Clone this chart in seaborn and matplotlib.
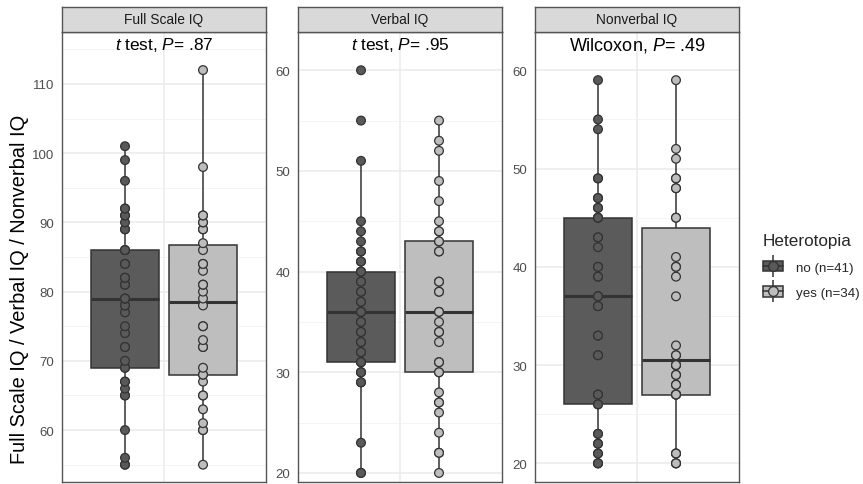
import numpy as np
import pandas as pd
import matplotlib
matplotlib.use('Agg')
import matplotlib.pyplot as plt
import seaborn as sns
from matplotlib.patches import Patch
from matplotlib.lines import Line2D
from matplotlib.legend_handler import HandlerTuple

# Scores per measure and heterotopia group (overlapping dots share a value)
fsiq_no = [55, 55, 56, 60, 65, 65, 66, 67, 67, 69, 69, 70, 72, 72, 74, 75, 77, 78, 78, 79, 79,
           79, 81, 81, 82, 82, 84, 84, 86, 86, 86, 89, 89, 90, 91, 91, 92, 92, 96, 99, 101]
fsiq_yes = [55, 60, 60, 61, 63, 65, 65, 67, 68, 68, 69, 72, 72, 73, 75, 75, 78, 79, 80, 81, 81,
            83, 84, 84, 86, 87, 89, 89, 90, 90, 91, 91, 98, 112]
viq_no = [20, 20, 23, 29, 29, 30, 30, 30, 31, 31, 31, 32, 32, 33, 33, 34, 34, 35, 35, 36, 36,
          36, 37, 37, 38, 38, 39, 39, 40, 40, 40, 41, 41, 42, 42, 43, 44, 45, 51, 55, 60]
viq_yes = [20, 22, 22, 24, 26, 27, 27, 28, 30, 30, 31, 31, 33, 34, 34, 35, 36, 36, 38, 38, 39,
           39, 42, 42, 43, 43, 44, 44, 45, 47, 49, 52, 53, 55]
nviq_no = [20, 20, 20, 21, 21, 22, 22, 23, 23, 26, 26, 27, 27, 31, 31, 33, 33, 36, 36, 37, 37,
           37, 39, 39, 40, 40, 42, 43, 43, 45, 45, 45, 46, 46, 47, 47, 49, 49, 54, 55, 59]
nviq_yes = [20, 20, 20, 21, 21, 21, 27, 27, 27, 27, 28, 28, 29, 29, 30, 30, 30, 31, 31, 32, 37,
            39, 40, 40, 41, 45, 45, 48, 48, 49, 49, 51, 52, 59]

measures = ["Full Scale IQ", "Verbal IQ", "Nonverbal IQ"]
groups = ["no (n=41)", "yes (n=34)"]
tests = [r"$\mathit{t}$ test, $\mathit{P}$= .87",
         r"$\mathit{t}$ test, $\mathit{P}$= .95",
         r"Wilcoxon, $\mathit{P}$= .49"]

scores = {
    "Full Scale IQ": (fsiq_no, fsiq_yes),
    "Verbal IQ": (viq_no, viq_yes),
    "Nonverbal IQ": (nviq_no, nviq_yes),
}

rows = []
for m in measures:
    for g, vals in zip(groups, scores[m]):
        for v in vals:
            rows.append((m, g, v))
df = pd.DataFrame(rows, columns=["measure", "group", "score"])

sns.set_style("white")
plt.rcParams['font.family'] = ['Liberation Sans', 'DejaVu Sans']
plt.rcParams['mathtext.fontset'] = 'custom'
plt.rcParams['mathtext.rm'] = 'Liberation Sans'
plt.rcParams['mathtext.it'] = 'Liberation Sans:italic'

box_colors = {"no (n=41)": "#5B5B5B", "yes (n=34)": "#BEBEBE"}
dot_colors = {"no (n=41)": "#595959", "yes (n=34)": "#BDBDBD"}
dark = "#333333"

W, H = 863, 485
fig = plt.figure(figsize=(W / 100, H / 100), dpi=100)

lefts = [62, 298, 535]
pw = 204
ptop, pbot, stop = 33, 483, 8
ylims = [(52.5, 117.5), (19.1, 63.8), (18.1, 63.9)]
majors = [np.arange(60, 111, 10), np.arange(20, 61, 10), np.arange(20, 61, 10)]
test_sizes = [12.4, 12.4, 13.0]

for i, m in enumerate(measures):
    ax = fig.add_axes([lefts[i] / W, (H - pbot) / H, pw / W, (pbot - ptop) / H])
    d = df[df["measure"] == m]
    sns.boxplot(data=d, x="measure", y="score", hue="group", hue_order=groups,
                palette=box_colors, saturation=1, dodge=True, gap=0.14,
                showfliers=False, showcaps=False, linecolor=dark, linewidth=1.1,
                medianprops=dict(linewidth=2.2, color=dark), legend=False, ax=ax)
    sns.stripplot(data=d, x="measure", y="score", hue="group", hue_order=groups,
                  palette=dot_colors, dodge=True, jitter=False, size=6.3,
                  edgecolor=dark, linewidth=0.9, legend=False, ax=ax, zorder=3)

    ax.set_xlim(-0.523, 0.523)
    ax.set_ylim(*ylims[i])
    ax.set_yticks(majors[i])
    ax.set_yticks(majors[i][:-1] + 5, minor=True)
    if majors[i][0] - 5 > ylims[i][0]:
        ax.set_yticks(np.append(majors[i] - 5, majors[i][-1] + 5), minor=True)
    ax.set_xticks([0])
    ax.grid(True, which="major", color="#EBEBEB", linewidth=1.1)
    ax.grid(True, which="minor", axis="y", color="#F2F2F2", linewidth=0.6)
    ax.set_axisbelow(True)
    ax.tick_params(axis="y", which="major", length=3.5, color=dark, labelsize=9.5,
                   labelcolor="#4D4D4D", width=0.8, pad=2)
    ax.tick_params(axis="y", which="minor", length=0)
    ax.tick_params(axis="x", length=0, labelbottom=False)
    ax.set_xlabel("")
    ax.set_ylabel("")
    for s in ax.spines.values():
        s.set_color("#555555")
        s.set_linewidth(1.0)

    ax.text(0.5, 0.973, tests[i], transform=ax.transAxes, ha="center", va="center",
            fontsize=test_sizes[i], color="black")

    sx = fig.add_axes([lefts[i] / W, (H - ptop) / H, pw / W, (ptop - stop) / H])
    sx.set_facecolor("#D9D9D9")
    sx.set_xticks([])
    sx.set_yticks([])
    for s in sx.spines.values():
        s.set_color("#555555")
        s.set_linewidth(1.0)
    sx.text(0.5, 0.5, m, ha="center", va="center", fontsize=9.9, color="#1A1A1A",
            transform=sx.transAxes)

fig.text(20 / W, (H - 289) / H, "Full Scale IQ / Verbal IQ / Nonverbal IQ",
         rotation=90, ha="center", va="center", fontsize=14.4, color="black")

handles = []
for g in groups:
    whisk = Line2D([], [], linestyle="None", marker="|", markersize=16,
                   markeredgecolor=dark, markeredgewidth=1.1)
    patch = Patch(facecolor=box_colors[g], edgecolor=dark, linewidth=1.1)
    mid = Line2D([], [], color=dark, linewidth=1.1, marker="o",
                 markerfacecolor=dot_colors[g], markeredgecolor=dark,
                 markeredgewidth=0.9, markersize=7)
    handles.append((whisk, patch, mid))

fig.legend(handles, groups, title="Heterotopia", loc="upper left",
           bbox_to_anchor=(751 / W, (H - 222) / H), frameon=False,
           handler_map={tuple: HandlerTuple(ndivide=1, pad=0)},
           fontsize=9.6, title_fontsize=12.3, handlelength=1.5, handleheight=0.85,
           handletextpad=1.0, labelspacing=0.95, alignment="left")

fig.savefig("out.png", dpi=100)
